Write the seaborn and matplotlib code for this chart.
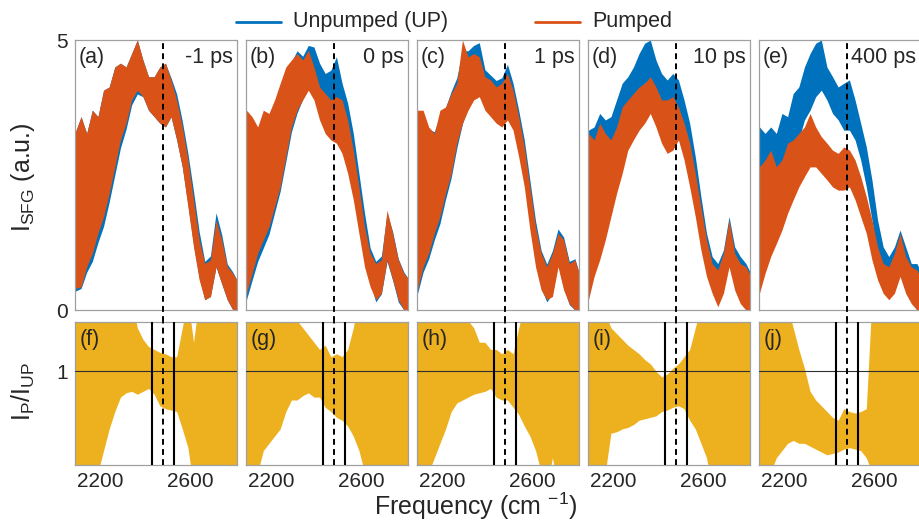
import numpy as np
import pandas as pd
import matplotlib
matplotlib.use("Agg")
import matplotlib.pyplot as plt
from matplotlib.lines import Line2D
import seaborn as sns

sns.set_style("white")
plt.rcParams["font.family"] = ["Liberation Sans", "DejaVu Sans"]
plt.rcParams["mathtext.fontset"] = "custom"
plt.rcParams["mathtext.rm"] = "Liberation Sans"
plt.rcParams["mathtext.it"] = "Liberation Sans"

# ---- data -------------------------------------------------------------
freq = np.arange(2090, 2816, 25)          # cm^-1 sampling grid
top_tags = ["(a)", "(b)", "(c)", "(d)", "(e)"]
bot_tags = ["(f)", "(g)", "(h)", "(i)", "(j)"]
delays = ["-1 ps", "0 ps", "1 ps", "10 ps", "400 ps"]
pump_line = 2480                           # dashed marker
window = [2430, 2530]                      # solid integration bounds

# SFG intensity envelopes (min / max of the noisy trace), unpumped
up_a_hi = [3.30, 3.58, 3.27, 3.70, 3.58, 4.07, 4.13, 4.50, 4.57, 4.50, 4.75, 5.00, 4.63, 4.32, 4.32,
           4.50, 4.57, 4.30, 4.00, 3.50, 2.90, 2.20, 1.45, 0.90, 1.00, 1.80, 1.40, 0.85, 0.70, 0.50]
up_a_lo = [0.35, 0.40, 0.70, 0.90, 1.25, 1.55, 2.00, 2.50, 3.00, 3.35, 3.80, 4.00, 3.95, 3.70, 3.58,
           3.46, 3.39, 3.58, 3.15, 2.65, 1.95, 1.20, 0.60, 0.19, 0.25, 0.80, 0.49, 0.19, 0.00, 0.00]
up_b_hi = [3.55, 3.50, 3.30, 3.60, 3.55, 3.85, 4.15, 4.45, 4.60, 4.80, 4.70, 4.90, 4.87, 4.57, 4.38,
           4.44, 4.69, 4.20, 3.83, 3.27, 2.53, 1.79, 1.15, 0.90, 1.00, 1.80, 1.45, 0.95, 0.70, 0.55]
up_b_lo = [0.19, 0.55, 0.90, 1.15, 1.40, 1.80, 2.20, 2.75, 3.30, 3.65, 3.90, 4.10, 4.00, 3.95, 3.89,
           3.89, 3.83, 3.39, 2.96, 2.41, 1.67, 0.99, 0.50, 0.15, 0.30, 0.90, 0.55, 0.15, 0.00, 0.00]
up_c_hi = [3.60, 3.60, 3.35, 3.30, 3.60, 3.75, 4.05, 4.30, 4.80, 4.80, 4.90, 4.95, 4.45, 4.35, 4.25,
           4.30, 4.55, 4.20, 3.70, 3.15, 2.40, 1.65, 1.10, 0.85, 1.10, 1.50, 1.35, 0.90, 0.95, 0.60]
up_c_lo = [0.30, 0.70, 0.95, 1.30, 1.60, 2.05, 2.45, 3.00, 3.45, 3.75, 3.95, 4.00, 3.80, 3.65, 3.55,
           3.50, 3.60, 3.40, 2.95, 2.40, 1.60, 0.90, 0.40, 0.15, 0.30, 0.85, 0.40, 0.10, 0.00, 0.00]
up_d_hi = [3.33, 3.39, 3.64, 3.52, 3.58, 3.89, 4.20, 4.32, 4.50, 4.75, 4.94, 5.00, 4.63, 4.38, 4.26,
           4.38, 4.26, 3.89, 3.46, 2.84, 2.10, 1.42, 0.99, 0.86, 1.11, 1.73, 1.17, 0.99, 0.86, 0.65]
up_d_lo = [0.43, 0.80, 1.11, 1.48, 1.91, 2.41, 2.90, 3.39, 3.76, 4.07, 4.20, 4.26, 3.95, 3.70, 3.58,
           3.70, 3.52, 3.15, 2.65, 1.98, 1.30, 0.74, 0.37, 0.12, 0.37, 0.86, 0.43, 0.19, 0.00, 0.00]
up_e_hi = [3.39, 3.27, 3.39, 3.27, 3.64, 3.58, 4.01, 4.13, 4.50, 4.75, 4.94, 5.00, 4.50, 4.32, 4.13,
           4.20, 4.26, 3.89, 3.46, 3.02, 2.41, 1.67, 1.17, 0.99, 1.17, 1.48, 1.17, 0.86, 0.86, 0.65]
up_e_lo = [0.80, 1.05, 1.30, 1.54, 1.91, 2.28, 2.78, 3.15, 3.52, 3.70, 3.95, 4.07, 3.89, 3.64, 3.52,
           3.33, 3.33, 3.15, 2.78, 2.28, 1.67, 0.99, 0.56, 0.31, 0.37, 0.68, 0.49, 0.19, 0.00, 0.00]

# SFG intensity envelopes, pumped
p_a_hi = [3.30, 3.58, 3.27, 3.70, 3.58, 4.07, 4.13, 4.50, 4.57, 4.50, 4.75, 5.00, 4.63, 4.32, 4.32,
          4.50, 4.57, 4.26, 3.89, 3.39, 2.78, 2.04, 1.30, 0.86, 0.93, 1.67, 1.30, 0.80, 0.68, 0.50]
p_a_lo = [0.40, 0.43, 0.80, 1.05, 1.42, 1.73, 2.16, 2.65, 3.15, 3.46, 3.89, 4.07, 3.95, 3.70, 3.58,
          3.46, 3.39, 3.58, 3.15, 2.65, 1.91, 1.17, 0.56, 0.19, 0.25, 0.80, 0.49, 0.19, 0.00, 0.00]
p_b_hi = [3.70, 3.58, 3.39, 3.70, 3.64, 3.89, 4.20, 4.50, 4.63, 4.75, 4.63, 4.81, 4.50, 4.13, 4.01,
          3.89, 3.95, 3.89, 3.52, 2.96, 2.28, 1.54, 1.05, 0.86, 0.93, 1.85, 1.42, 0.93, 0.68, 0.55]
p_b_lo = [0.31, 0.68, 1.05, 1.30, 1.54, 1.91, 2.28, 2.84, 3.39, 3.70, 3.89, 4.07, 3.89, 3.52, 3.27,
          3.15, 3.09, 2.90, 2.53, 2.04, 1.42, 0.80, 0.43, 0.19, 0.31, 0.93, 0.56, 0.19, 0.00, 0.00]
p_c_hi = [3.70, 3.70, 3.39, 3.27, 3.70, 3.76, 4.01, 4.20, 5.00, 4.69, 4.75, 4.69, 4.32, 4.26, 4.13,
          4.20, 4.38, 4.07, 3.58, 3.02, 2.28, 1.54, 1.05, 0.80, 1.05, 1.42, 1.30, 0.86, 0.93, 0.60]
p_c_lo = [0.37, 0.80, 1.05, 1.42, 1.73, 2.16, 2.53, 3.09, 3.46, 3.70, 3.89, 3.95, 3.70, 3.58, 3.46,
          3.39, 3.52, 3.33, 2.84, 2.28, 1.48, 0.80, 0.37, 0.19, 0.25, 0.80, 0.37, 0.12, 0.00, 0.00]
p_d_hi = [3.27, 3.15, 3.46, 3.27, 3.15, 3.39, 3.76, 3.89, 4.01, 4.13, 4.20, 4.32, 4.13, 3.89, 3.89,
          3.95, 3.76, 3.46, 3.09, 2.53, 1.91, 1.30, 0.86, 0.74, 1.05, 1.67, 1.05, 0.86, 0.80, 0.60]
p_d_lo = [0.19, 0.62, 0.93, 1.30, 1.73, 2.16, 2.53, 2.96, 3.15, 3.33, 3.46, 3.64, 3.39, 3.09, 2.90,
          2.96, 3.15, 2.78, 2.28, 1.73, 1.11, 0.62, 0.31, 0.06, 0.31, 0.80, 0.37, 0.12, 0.00, 0.00]
p_e_hi = [2.65, 2.78, 2.96, 2.65, 2.78, 3.09, 3.15, 3.27, 3.39, 3.64, 3.39, 3.21, 3.09, 2.96, 2.90,
          3.02, 2.96, 2.78, 2.47, 2.10, 1.67, 1.17, 0.86, 0.80, 1.05, 1.42, 0.99, 0.80, 0.74, 0.55]
p_e_lo = [0.31, 0.68, 0.99, 1.23, 1.48, 1.79, 2.04, 2.28, 2.47, 2.65, 2.65, 2.53, 2.41, 2.28, 2.22,
          2.22, 2.28, 2.04, 1.73, 1.42, 0.93, 0.56, 0.31, 0.19, 0.31, 0.62, 0.31, 0.12, 0.00, 0.00]

# Pumped / unpumped ratio envelopes
r_f_hi = [1.50, 1.50, 1.50, 1.50, 1.45, 1.50, 1.40, 1.50, 1.45, 1.40, 1.50, 1.30, 1.22, 1.17, 1.15,
          1.13, 1.12, 1.10, 1.10, 1.30, 1.50, 1.20, 1.50, 1.50, 1.50, 1.50, 1.50, 1.50, 1.50, 1.50]
r_f_lo = [0.20, 0.20, 0.20, 0.22, 0.30, 0.45, 0.60, 0.72, 0.82, 0.85, 0.86, 0.84, 0.86, 0.88, 0.84,
          0.76, 0.74, 0.73, 0.72, 0.60, 0.47, 0.20, 0.20, 0.25, 0.30, 0.20, 0.30, 0.20, 0.20, 0.20]
r_g_hi = [1.50, 1.50, 1.50, 1.50, 1.50, 1.50, 1.45, 1.50, 1.40, 1.35, 1.30, 1.25, 1.20, 1.15, 1.18,
          1.10, 1.12, 1.10, 1.15, 1.30, 1.50, 1.50, 1.50, 1.50, 1.50, 1.50, 1.50, 1.50, 1.50, 1.50]
r_g_lo = [0.20, 0.20, 0.30, 0.45, 0.50, 0.55, 0.60, 0.72, 0.80, 0.80, 0.83, 0.85, 0.82, 0.82, 0.75,
          0.72, 0.68, 0.66, 0.62, 0.55, 0.45, 0.30, 0.20, 0.20, 0.25, 0.20, 0.30, 0.20, 0.20, 0.20]
r_h_hi = [1.50, 1.50, 1.50, 1.50, 1.50, 1.50, 1.45, 1.40, 1.35, 1.35, 1.30, 1.20, 1.20, 1.15, 1.15,
          1.12, 1.15, 1.12, 1.30, 1.45, 1.50, 1.50, 1.50, 1.50, 1.50, 1.50, 1.50, 1.50, 1.50, 1.50]
r_h_lo = [0.20, 0.20, 0.30, 0.40, 0.50, 0.60, 0.72, 0.78, 0.80, 0.82, 0.84, 0.85, 0.86, 0.88, 0.82,
          0.80, 0.80, 0.75, 0.70, 0.62, 0.55, 0.45, 0.30, 0.20, 0.40, 0.20, 0.30, 0.20, 0.20, 0.20]
r_i_hi = [1.50, 1.50, 1.50, 1.40, 1.30, 1.26, 1.22, 1.18, 1.15, 1.12, 1.08, 1.05, 1.00, 0.96, 0.98,
          1.02, 1.05, 1.10, 1.15, 1.30, 1.45, 1.50, 1.50, 1.50, 1.50, 1.50, 1.50, 1.50, 1.50, 1.50]
r_i_lo = [0.20, 0.20, 0.20, 0.30, 0.57, 0.58, 0.60, 0.61, 0.63, 0.66, 0.67, 0.68, 0.69, 0.72, 0.73,
          0.75, 0.76, 0.74, 0.66, 0.60, 0.50, 0.40, 0.20, 0.25, 0.30, 0.20, 0.30, 0.20, 0.20, 0.20]
r_j_hi = [1.50, 1.50, 1.50, 1.50, 1.50, 1.45, 1.30, 1.15, 1.02, 0.86, 0.80, 0.76, 0.72, 0.68, 0.66,
          0.74, 0.72, 0.71, 0.72, 0.74, 1.50, 1.50, 1.50, 1.50, 1.50, 1.50, 1.50, 1.50, 1.50, 1.50]
r_j_lo = [0.20, 0.25, 0.30, 0.40, 0.45, 0.50, 0.52, 0.50, 0.50, 0.48, 0.46, 0.44, 0.42, 0.43, 0.44,
          0.46, 0.47, 0.46, 0.45, 0.40, 0.30, 0.20, 0.20, 0.20, 0.20, 0.20, 0.20, 0.20, 0.20, 0.20]

unpumped = [(up_a_lo, up_a_hi), (up_b_lo, up_b_hi), (up_c_lo, up_c_hi), (up_d_lo, up_d_hi), (up_e_lo, up_e_hi)]
pumped = [(p_a_lo, p_a_hi), (p_b_lo, p_b_hi), (p_c_lo, p_c_hi), (p_d_lo, p_d_hi), (p_e_lo, p_e_hi)]
ratios = [(r_f_lo, r_f_hi), (r_g_lo, r_g_hi), (r_h_lo, r_h_hi), (r_i_lo, r_i_hi), (r_j_lo, r_j_hi)]

C_UP, C_P, C_R = "#0072BD", "#D95319", "#EDB120"
SPINE = "#a0a0a0"
TXT = "#262626"


def band(ax, lo, hi, color, z):
    """Draw the min/max envelope of a noisy trace as a filled band."""
    df = pd.DataFrame({"freq": np.concatenate([freq, freq]),
                       "val": np.concatenate([lo, hi])})
    sns.lineplot(data=df, x="freq", y="val", estimator="mean", errorbar=("pi", 100),
                 color=color, lw=0.8, zorder=z,
                 err_kws={"alpha": 1, "lw": 0, "zorder": z}, ax=ax)


def style(ax):
    for s in ax.spines.values():
        s.set_color(SPINE)
        s.set_linewidth(0.9)
    ax.tick_params(direction="in", length=3.5, width=0.7, color="#707070",
                   labelsize=15, labelcolor=TXT, pad=5)
    ax.set_xlabel("")
    ax.set_ylabel("")
    ax.set_xlim(2088, 2806)
    ax.set_xticks([2200, 2600])


fig = plt.figure(figsize=(9.19, 5.2), dpi=100)
W, H = 919, 520
left0, step, width = 75 / W, 171 / W, 161.5 / W
top_b, top_h = 1 - 310 / H, 270 / H
bot_b, bot_h = 1 - 465 / H, 143 / H

for i in range(5):
    x0 = left0 + i * step
    axt = fig.add_axes([x0, top_b, width, top_h])
    axb = fig.add_axes([x0, bot_b, width, bot_h])

    band(axt, *unpumped[i], C_UP, 1.0)
    band(axt, *pumped[i], C_P, 2.0)
    style(axt)
    axt.set_ylim(0, 5)
    axt.set_yticks([0, 5])
    axt.set_xticklabels([])
    if i > 0:
        axt.set_yticklabels([])
    axt.axvline(pump_line, ymin=-0.045, ymax=1, color="k", lw=1.4,
                ls=(0, (3, 2.2)), clip_on=False, zorder=5)
    axt.text(0.025, 0.975, top_tags[i], transform=axt.transAxes, ha="left", va="top",
             fontsize=15.5, color=TXT, zorder=6)
    axt.text(0.975, 0.975, delays[i], transform=axt.transAxes, ha="right", va="top",
             fontsize=15.5, color=TXT, zorder=6)

    band(axb, *ratios[i], C_R, 1.0)
    style(axb)
    axb.set_ylim(0.35, 1.34)
    axb.set_yticks([1])
    if i > 0:
        axb.set_yticklabels([])
    axb.axhline(1, color="#303030", lw=0.8, zorder=4)
    for w in window:
        axb.axvline(w, color="k", lw=1.5, zorder=5)
    axb.axvline(pump_line, color="k", lw=1.4, ls=(0, (3, 2.2)), zorder=5)
    axb.text(0.03, 0.88, bot_tags[i], transform=axb.transAxes, ha="left", va="center",
             fontsize=15.5, color=TXT, zorder=6)

# axis labels
fig.text(23 / W, 1 - 177 / H, r"I$_{\mathrm{SFG}}$ (a.u.)", rotation=90, ha="center",
         va="center", fontsize=18, color=TXT)
fig.text(23 / W, 1 - 392 / H, r"I$_{\mathrm{P}}$/I$_{\mathrm{UP}}$", rotation=90, ha="center",
         va="center", fontsize=18, color=TXT)
fig.text(476 / W, 1 - 506 / H, r"Frequency (cm $^{-1}$)", ha="center", va="center",
         fontsize=18, color=TXT)

# legend
ly = 1 - 21.5 / H
fig.add_artist(Line2D([236 / W, 281 / W], [ly, ly], color=C_UP, lw=2))
fig.text(293 / W, ly, "Unpumped (UP)", ha="left", va="center", fontsize=15.5, color=TXT)
fig.add_artist(Line2D([535 / W, 580 / W], [ly, ly], color=C_P, lw=2))
fig.text(592 / W, ly, "Pumped", ha="left", va="center", fontsize=15.5, color=TXT)

fig.savefig("out.png", dpi=100)
